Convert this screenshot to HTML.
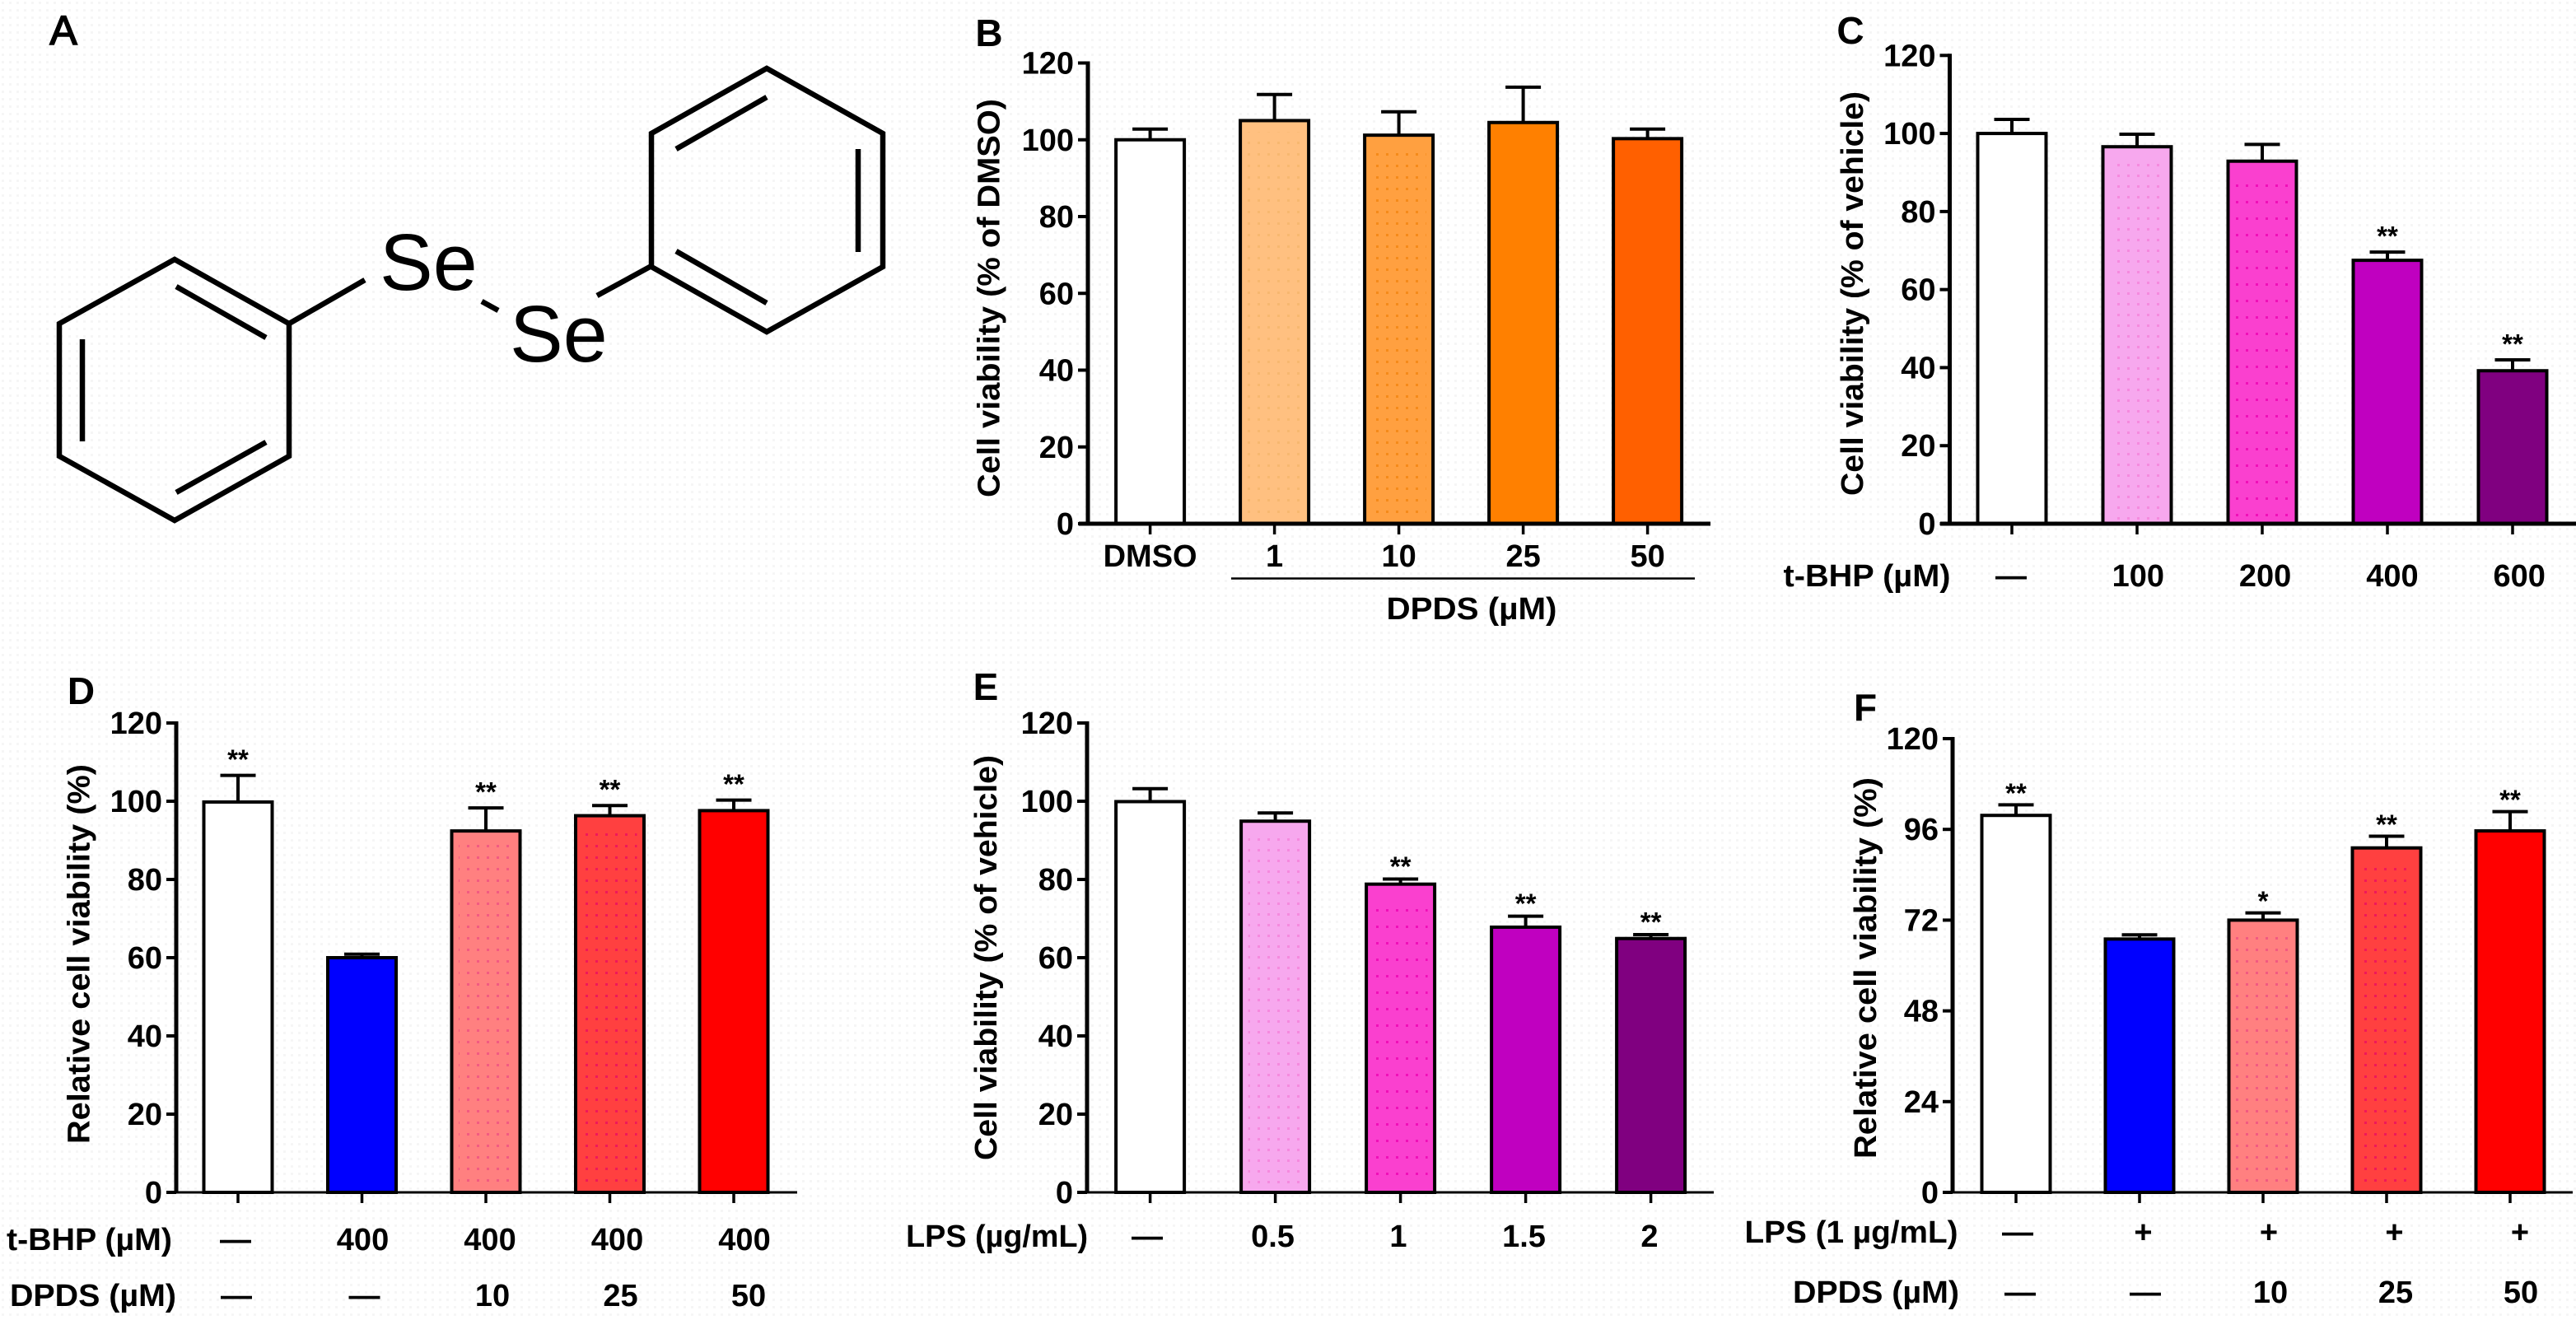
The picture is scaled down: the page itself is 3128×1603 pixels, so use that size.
<!DOCTYPE html>
<html lang="en">
<head>
<meta charset="utf-8">
<title>DPDS cell viability figure</title>
<style>
html,body{margin:0;padding:0;background:#fff;}
svg{display:block;}
text{font-family:"Liberation Sans",Arial,sans-serif;fill:#000;}
</style>
</head>
<body>
<svg id="figure" xmlns="http://www.w3.org/2000/svg" width="3128" height="1603" viewBox="0 0 3128 1603">
  <defs>
    <pattern id="bg-dots" width="9" height="9" patternUnits="userSpaceOnUse"><rect x="2" y="2" width="3" height="3" fill="#f6f6f6"/></pattern>
    <pattern id="dots-pink" width="12" height="13" patternUnits="userSpaceOnUse"><rect x="3" y="4" width="3" height="3" fill="#f58ade"/></pattern>
    <pattern id="dots-magenta" width="12" height="20" patternUnits="userSpaceOnUse"><rect x="3" y="4" width="3" height="3" fill="#f010b8"/></pattern>
    <pattern id="dots-salmon" width="12" height="14" patternUnits="userSpaceOnUse"><rect x="3" y="4" width="3" height="3" fill="#f25a82"/></pattern>
    <pattern id="dots-red" width="12" height="14" patternUnits="userSpaceOnUse"><rect x="3" y="4" width="3" height="3" fill="#f0185a"/></pattern>
    <pattern id="dots-orange" width="12" height="14" patternUnits="userSpaceOnUse"><rect x="3" y="4" width="3" height="3" fill="#f58a1a"/></pattern>
    <pattern id="dots-peach" width="12" height="14" patternUnits="userSpaceOnUse"><rect x="3" y="4" width="3" height="3" fill="#f7b870"/></pattern>
  </defs>
  <rect width="3128" height="1603" fill="#ffffff"/>
  <rect width="3128" height="1603" fill="url(#bg-dots)"/>

  <g fill="none" stroke="#000" stroke-width="6.5" stroke-linecap="butt" stroke-linejoin="miter">
    <text x="77" y="54" text-anchor="middle" font-size="50" stroke="#000" stroke-width="1.6">A</text>
    <polygon points="212,315 351,393 351,554 212,632 72,554 72,393"/>
    <line x1="214" y1="348" x2="323" y2="410"/>
    <line x1="100" y1="412" x2="100" y2="536"/>
    <line x1="214" y1="598" x2="323" y2="537"/>
    <line x1="351" y1="393" x2="443" y2="340"/>
    <text x="461" y="352" font-size="97" stroke="none">Se</text>
    <line x1="585" y1="366" x2="605" y2="377"/>
    <text x="619" y="439" font-size="97" stroke="none">Se</text>
    <line x1="725" y1="359" x2="791" y2="323"/>
    <polygon points="931,83 1072,162 1072,324 931,403 791,324 791,162"/>
    <line x1="931" y1="118" x2="821" y2="181"/>
    <line x1="1042" y1="181" x2="1042" y2="306"/>
    <line x1="821" y1="305" x2="931" y2="368"/>
  </g>
  <g id="charts"></g>
</svg>

<script>
// ---- chart data ----
const yTicks100 = [0, 20, 40, 60, 80, 100, 120];
const yTicks96 = [0, 24, 48, 72, 96, 120];

const bCategories = ['DMSO', '1', '10', '25', '50'];
const bValues = [100, 105, 101.2, 104.5, 100.3];
const bErrorTops = [102.8, 111.8, 107.3, 113.7, 102.8];
const bStars = ['', '', '', '', ''];

const cCategories = ['—', '100', '200', '400', '600'];
const cValues = [100, 96.6, 92.9, 67.5, 39.2];
const cErrorTops = [103.6, 99.8, 97.2, 69.6, 42];
const cStars = ['', '', '', '**', '**'];

const dCategoriesBhp = ['—', '400', '400', '400', '400'];
const dCategoriesDpds = ['—', '—', '10', '25', '50'];
const dValues = [99.8, 60, 92.4, 96.3, 97.6];
const dErrorTops = [106.6, 60.9, 98.3, 98.9, 100.3];
const dStars = ['**', '', '**', '**', '**'];

const eCategories = ['—', '0.5', '1', '1.5', '2'];
const eValues = [99.9, 94.9, 78.8, 67.8, 64.9];
const eErrorTops = [103.2, 97, 80.1, 70.6, 65.9];
const eStars = ['', '', '**', '**', '**'];

const fCategoriesLps = ['—', '+', '+', '+', '+'];
const fCategoriesDpds = ['—', '—', '10', '25', '50'];
const fValues = [99.7, 67, 72, 91.1, 95.6];
const fErrorTops = [102.5, 68.1, 73.9, 94.2, 100.7];
const fStars = ['**', '', '*', '**', '**'];

const SVGNS = 'http://www.w3.org/2000/svg';
const root = document.getElementById('charts');

function make(tag, parent, attrs) {
  const el = document.createElementNS(SVGNS, tag);
  for (const k in attrs) el.setAttribute(k, attrs[k]);
  parent.appendChild(el);
  return el;
}

function drawPanel(p) {
  const g = make('g', root, {});
  
  

  const yScale = v => p.y0 - v * (p.y0 - p.yTop) / p.yMax;
  const xScale = i => p.x0 + i * p.dx;

  // panel letter
  const letter = make('text', g, {x: p.letterX, y: p.letterY, 'text-anchor': 'middle', 'font-size': 46, 'font-weight': 'bold'});
  letter.textContent = p.id.toUpperCase();
  
  

  // y-axis title
  const yt = make('text', g, {
    transform: 'translate(' + p.titleX + ',' + p.titleY + ') rotate(-90)',
    'text-anchor': 'middle', 'font-size': 38, 'font-weight': 'bold',
    textLength: p.titleLen, lengthAdjust: 'spacingAndGlyphs'
  });
  yt.textContent = p.title;
  
  

  // bars + error bars + significance stars
  p.values.forEach((v, i) => {
    const cx = xScale(i);
    const top = yScale(p.errorTops[i]);
    const stem = make('line', g, {x1: cx, x2: cx, y1: yScale(v), y2: top, stroke: '#000', 'stroke-width': 4});
    
    
    const cap = make('line', g, {x1: cx - 21.5, x2: cx + 21.5, y1: top, y2: top, stroke: '#000', 'stroke-width': 4});
    
    

    const bar = make('rect', g, {
      x: cx - 41.5, y: yScale(v), width: 83, height: p.y0 - yScale(v),
      fill: p.fills[i], stroke: '#000', 'stroke-width': 4
    });
    
    
    if (p.dots[i]) {
      const tex = make('rect', g, {
        x: cx - 33, y: yScale(v) + 14, width: 66, height: Math.max(0, p.y0 - yScale(v) - 18),
        fill: 'url(#' + p.dots[i] + ')'
      });
      
      
    }
    if (p.stars[i]) {
      const st = make('text', g, {x: cx, y: top - p.starGap, 'text-anchor': 'middle', 'font-size': 33, 'font-weight': 'bold'});
      st.textContent = p.stars[i];
      
      
    }
    const tick = make('line', g, {x1: cx, x2: cx, y1: p.y0, y2: p.y0 + 13, stroke: '#000', 'stroke-width': 3.5});
    
    
  });

  // axes
  const ya = make('line', g, {x1: p.axisX, x2: p.axisX, y1: p.yTop - 2, y2: p.y0, stroke: '#000', 'stroke-width': 5});
  
  
  const xa = make('line', g, {x1: p.xaStart, x2: p.xaEnd, y1: p.y0, y2: p.y0, stroke: '#000', 'stroke-width': p.xaWidth});
  
  

  // y ticks and labels
  p.yTicks.forEach(t => {
    const y = yScale(t);
    const tk = make('line', g, {x1: p.axisX - 12, x2: p.axisX, y1: y, y2: y, stroke: '#000', 'stroke-width': 4});
    
    
    const lb = make('text', g, {x: p.axisX - 17, y: y + 13, 'text-anchor': 'end', 'font-size': 38, 'font-weight': 'bold'});
    lb.textContent = t;
    
    
  });

  // x-label rows
  p.rows.forEach(r => {
    if (r.title) {
      const rt = make('text', g, {
        x: r.titleX, y: r.y, 'text-anchor': 'middle', 'font-size': 38, 'font-weight': 'bold',
        textLength: r.titleLen, lengthAdjust: 'spacingAndGlyphs'
      });
      rt.textContent = r.title;
      
      
    }
    r.labels.forEach((txt, i) => {
      const lb = make('text', g, {x: r.x0 + i * r.dx, y: r.y, 'text-anchor': 'middle', 'font-size': 38, 'font-weight': 'bold'});
      lb.textContent = txt;
      
      
    });
  });
}

const orange = ['#ffffff', '#ffc080', '#ffa040', '#ff8000', '#ff6000'];
const magenta = ['#ffffff', '#f7a8ee', '#fa40cf', '#c000c0', '#800080'];
const reds = ['#ffffff', '#0000ff', '#ff8080', '#ff4040', '#ff0000'];
const magentaDots = ['', 'dots-pink', 'dots-magenta', '', ''];
const redDots = ['', '', 'dots-salmon', 'dots-red', ''];
const orangeDots = ['', 'dots-peach', 'dots-orange', '', ''];

drawPanel({
  id: 'b', values: bValues, errorTops: bErrorTops, stars: bStars, fills: orange, dots: orangeDots, starGap: 8,
  yTicks: yTicks100, yMax: 120, yTop: 76.5, y0: 636, axisX: 1321, xaStart: 1310, xaEnd: 2077, xaWidth: 5,
  x0: 1396.6, dx: 151, letterX: 1201, letterY: 56,
  title: 'Cell viability (% of DMSO)', titleX: 1213.5, titleY: 362, titleLen: 484,
  rows: [
    {labels: bCategories, x0: 1396.6, dx: 151, y: 688},
    {title: 'DPDS (µM)', titleX: 1787, titleLen: 207, labels: [], x0: 0, dx: 0, y: 752}
  ]
});
const bRule = make('line', root, {x1: 1495, x2: 2058, y1: 702.5, y2: 702.5, stroke: '#000', 'stroke-width': 2.5});



drawPanel({
  id: 'c', values: cValues, errorTops: cErrorTops, stars: cStars, fills: magenta, dots: magentaDots, starGap: 8,
  yTicks: yTicks100, yMax: 120, yTop: 67.3, y0: 636, axisX: 2367.5, xaStart: 2356, xaEnd: 3128, xaWidth: 5,
  x0: 2443, dx: 152, letterX: 2247, letterY: 53,
  title: 'Cell viability (% of vehicle)', titleX: 2262, titleY: 356.5, titleLen: 491,
  rows: [
    {title: 't-BHP (µM)', titleX: 2267, titleLen: 203, labels: cCategories, x0: 2442, dx: 154.3, y: 712}
  ]
});

drawPanel({
  id: 'd', values: dValues, errorTops: dErrorTops, stars: dStars, fills: reds, dots: redDots, starGap: 8,
  yTicks: yTicks100, yMax: 120, yTop: 878, y0: 1448, axisX: 214, xaStart: 203, xaEnd: 968, xaWidth: 3,
  x0: 289, dx: 150.5, letterX: 98.5, letterY: 855,
  title: 'Relative cell viability (%)', titleX: 108.5, titleY: 1158.5, titleLen: 461,
  rows: [
    {title: 't-BHP (µM)', titleX: 108.5, titleLen: 201, labels: dCategoriesBhp, x0: 286, dx: 154.5, y: 1518},
    {title: 'DPDS (µM)', titleX: 113, titleLen: 202, labels: dCategoriesDpds, x0: 287, dx: 155.5, y: 1586}
  ]
});

drawPanel({
  id: 'e', values: eValues, errorTops: eErrorTops, stars: eStars, fills: magenta, dots: magentaDots, starGap: 4,
  yTicks: yTicks100, yMax: 120, yTop: 878, y0: 1448, axisX: 1320, xaStart: 1310, xaEnd: 2081, xaWidth: 3,
  x0: 1396.6, dx: 152, letterX: 1197, letterY: 850,
  title: 'Cell viability (% of vehicle)', titleX: 1210, titleY: 1163, titleLen: 492,
  rows: [
    {title: 'LPS (µg/mL)', titleX: 1210.6, titleLen: 221, labels: eCategories, x0: 1393, dx: 152.5, y: 1514}
  ]
});

drawPanel({
  id: 'f', values: fValues, errorTops: fErrorTops, stars: fStars, fills: reds, dots: redDots, starGap: 3,
  yTicks: yTicks96, yMax: 120, yTop: 897, y0: 1448, axisX: 2371, xaStart: 2360, xaEnd: 3124, xaWidth: 3,
  x0: 2448, dx: 150, letterX: 2265, letterY: 875,
  title: 'Relative cell viability (%)', titleX: 2278, titleY: 1175.5, titleLen: 463,
  rows: [
    {title: 'LPS (1 µg/mL)', titleX: 2248, titleLen: 259, labels: fCategoriesLps, x0: 2450, dx: 152.5, y: 1509},
    {title: 'DPDS (µM)', titleX: 2278, titleLen: 202, labels: fCategoriesDpds, x0: 2453, dx: 152, y: 1582}
  ]
});
</script>
</body>
</html>
